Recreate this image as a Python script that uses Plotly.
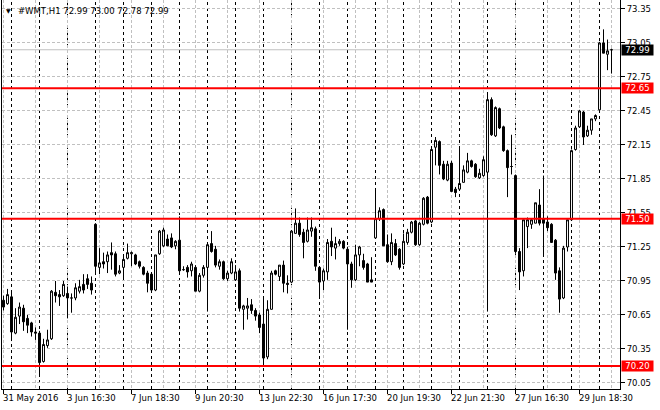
import plotly.graph_objects as go

# hourly sessions of the stock (server time)
sessions = ["16:30", "17:30", "18:30", "19:30", "20:30", "21:30", "22:30"]
dates = ["31 May", "1 Jun", "2 Jun", "3 Jun", "6 Jun", "7 Jun", "8 Jun", "9 Jun",
         "10 Jun", "13 Jun", "14 Jun", "15 Jun", "16 Jun", "17 Jun", "20 Jun",
         "21 Jun", "22 Jun", "23 Jun", "24 Jun", "27 Jun", "28 Jun", "29 Jun", "30 Jun"]

opens = [70.78, 70.75,
         70.81, 70.49, 70.64, 70.71, 70.62, 70.58, 70.50,
         70.49, 70.24, 70.38, 70.44, 70.85, 70.83, 70.82,
         70.84, 70.80, 70.80, 70.86, 70.92, 70.97, 70.93,
         71.45, 71.07, 71.12, 71.12, 71.20, 71.19, 71.02,
         71.07, 71.15, 71.19, 71.18, 71.12, 71.07, 71.02,
         71.01, 70.87, 71.19, 71.26, 71.32, 71.33, 71.26,
         71.31, 71.05, 71.07, 71.04, 71.07, 70.86, 71.00,
         71.07, 71.28, 71.23, 71.08, 71.12, 70.97, 71.02,
         70.96, 71.04, 70.70, 70.71, 70.74, 70.69, 70.65,
         70.57, 70.28, 70.70, 71.04, 70.99, 71.09, 70.93,
         70.94, 71.37, 71.46, 71.38, 71.30, 71.39, 71.41,
         71.07, 70.95, 71.03, 71.30, 71.24, 71.28, 71.30,
         71.23, 71.10, 70.96, 71.18, 71.13, 71.10, 70.96,
         71.33, 71.50, 71.58, 71.27, 71.12, 71.28, 71.23,
         71.10, 71.29, 71.38, 71.48, 71.27, 71.45, 71.69,
         71.47, 72.13, 72.18, 71.98, 71.84, 71.99, 71.76,
         71.76, 71.82, 71.91, 72.01, 71.98, 71.86, 71.88,
         71.91, 72.55, 72.23, 72.47, 72.31, 72.10, 71.96,
         71.88, 71.21, 71.04, 71.43, 71.45, 71.46, 71.62,
         71.50, 71.47, 71.45, 71.31, 71.04, 70.80, 71.25,
         71.49, 72.11, 72.31, 72.44, 72.23, 72.28, 72.38,
         72.46, 73.05, 72.95, 72.99]
highs = [70.82, 70.88,
         70.85, 70.71, 70.76, 70.74, 70.65, 70.59, 70.54,
         70.51, 70.44, 70.52, 70.87, 70.95, 70.87, 70.95,
         70.90, 70.84, 70.93, 70.96, 71.01, 71.01, 70.99,
         71.46, 71.24, 71.20, 71.21, 71.29, 71.21, 71.09,
         71.17, 71.28, 71.21, 71.19, 71.13, 71.08, 71.04,
         71.02, 71.18, 71.40, 71.42, 71.36, 71.37, 71.31,
         71.52, 71.08, 71.09, 71.12, 71.09, 71.02, 71.09,
         71.29, 71.39, 71.26, 71.14, 71.13, 71.04, 71.15,
         71.09, 71.06, 70.74, 70.80, 70.79, 70.71, 70.67,
         70.80, 70.78, 71.04, 71.05, 71.09, 71.13, 71.00,
         71.40, 71.59, 71.51, 71.41, 71.51, 71.51, 71.43,
         71.07, 71.06, 71.32, 71.42, 71.34, 71.32, 71.31,
         71.25, 71.12, 71.27, 71.26, 71.19, 71.11, 71.16,
         71.77, 71.60, 71.59, 71.36, 71.37, 71.32, 71.24,
         71.37, 71.41, 71.48, 71.49, 71.47, 71.69, 71.70,
         72.14, 72.22, 72.19, 72.01, 72.01, 72.01, 71.78,
         72.14, 71.97, 72.08, 72.02, 71.99, 71.94, 72.05,
         72.61, 72.57, 72.49, 72.48, 72.32, 72.11, 72.24,
         71.89, 71.24, 71.49, 71.51, 71.50, 71.64, 71.76,
         71.88, 71.52, 71.46, 71.32, 71.07, 71.26, 71.49,
         72.11, 72.32, 72.46, 72.45, 72.32, 72.38, 72.42,
         73.06, 73.17, 73.08, 73.00]
lows = [70.69, 70.74,
        70.42, 70.48, 70.57, 70.51, 70.49, 70.46, 70.43,
        70.11, 70.23, 70.36, 70.43, 70.76, 70.73, 70.81,
        70.62, 70.67, 70.78, 70.84, 70.84, 70.88, 70.83,
        71.02, 71.01, 71.06, 71.02, 71.05, 70.99, 71.01,
        70.96, 71.14, 71.08, 71.09, 71.06, 71.00, 70.85,
        70.86, 70.86, 71.18, 71.25, 71.26, 71.24, 71.23,
        71.01, 71.04, 70.98, 70.99, 70.86, 70.85, 70.98,
        70.68, 71.20, 71.07, 71.05, 70.96, 70.95, 71.01,
        70.95, 70.68, 70.52, 70.61, 70.66, 70.60, 70.49,
        70.23, 70.26, 70.70, 71.00, 70.95, 70.85, 70.84,
        70.93, 71.37, 71.34, 71.15, 71.29, 71.34, 71.04,
        70.80, 70.87, 70.96, 71.17, 71.14, 71.26, 71.23,
        70.52, 70.89, 70.95, 71.08, 71.05, 70.94, 70.94,
        71.33, 71.48, 71.26, 71.11, 71.09, 71.17, 71.05,
        71.09, 71.27, 71.37, 71.26, 71.26, 71.44, 71.45,
        71.46, 71.97, 71.89, 71.84, 71.83, 71.74, 71.69,
        71.75, 71.82, 71.90, 71.95, 71.86, 71.85, 71.87,
        70.68, 72.23, 72.22, 72.29, 72.09, 71.69, 71.89,
        71.19, 70.87, 70.99, 71.24, 71.41, 71.46, 71.44,
        71.17, 71.39, 71.29, 70.96, 70.67, 70.79, 71.21,
        71.48, 72.10, 72.30, 72.15, 72.22, 72.24, 72.36,
        72.45, 72.96, 72.81, 72.78]
closes = [70.72, 70.83,
          70.50, 70.63, 70.72, 70.59, 70.56, 70.50, 70.49,
          70.23, 70.39, 70.43, 70.86, 70.82, 70.81, 70.92,
          70.80, 70.80, 70.89, 70.90, 70.87, 70.92, 70.87,
          71.08, 71.11, 71.10, 71.18, 71.18, 71.01, 71.04,
          71.14, 71.20, 71.20, 71.10, 71.08, 71.01, 70.93,
          70.87, 71.18, 71.39, 71.40, 71.26, 71.25, 71.30,
          71.04, 71.05, 71.03, 71.10, 70.86, 71.00, 71.07,
          71.27, 71.21, 71.09, 71.12, 70.97, 71.02, 71.12,
          71.03, 70.71, 70.73, 70.73, 70.69, 70.64, 70.54,
          70.27, 70.70, 71.02, 71.01, 71.09, 70.93, 70.92,
          71.39, 71.46, 71.36, 71.29, 71.40, 71.42, 71.08,
          70.94, 71.04, 71.29, 71.25, 71.28, 71.30, 71.24,
          71.10, 70.96, 71.18, 71.25, 71.07, 70.94, 70.94,
          71.50, 71.57, 71.26, 71.12, 71.29, 71.18, 71.07,
          71.30, 71.38, 71.47, 71.27, 71.46, 71.68, 71.46,
          72.11, 72.19, 71.97, 71.85, 71.98, 71.74, 71.73,
          71.81, 71.93, 72.01, 71.96, 71.87, 71.90, 72.02,
          72.55, 72.24, 72.48, 72.30, 72.10, 71.95, 71.96,
          71.21, 71.03, 71.49, 71.49, 71.49, 71.64, 71.46,
          71.46, 71.42, 71.29, 71.02, 70.79, 71.24, 71.49,
          72.10, 72.30, 72.45, 72.22, 72.28, 72.38, 72.41,
          73.05, 72.96, 72.98, 72.99]

levels = [72.65, 71.50, 70.20]
bid = 72.99
price_ticks = [70.05, 70.35, 70.65, 70.95, 71.25, 71.55, 71.85, 72.15,
               72.45, 72.75, 73.05, 73.35]
label_at = ["31 May 21:30", "3 Jun 16:30", "7 Jun 18:30", "9 Jun 20:30",
            "13 Jun 22:30", "16 Jun 17:30", "20 Jun 19:30", "22 Jun 21:30",
            "27 Jun 16:30", "29 Jun 18:30"]
label_text = ["31 May 2016"] + label_at[1:]

# bar times, only the visible part of the first and last day
times = []
for k, d in enumerate(dates):
    hrs = sessions
    if k == 0:
        hrs = sessions[-2:]
    elif k == len(dates) - 1:
        hrs = sessions[:4]
    for h in hrs:
        times.append(d + " " + h)
x = list(range(len(times)))
label_pos = [times.index(t) for t in label_at]
day_starts = [i for i in range(1, len(times))
              if times[i].rsplit(" ", 1)[0] != times[i - 1].rsplit(" ", 1)[0]]

FONT = "DejaVu Sans"
GRID = "#c0c0c0"

fig = go.Figure()
fig.add_trace(go.Candlestick(
    x=x, open=opens, high=highs, low=lows, close=closes,
    increasing=dict(line=dict(color="black", width=1), fillcolor="white"),
    decreasing=dict(line=dict(color="black", width=1), fillcolor="black"),
    whiskerwidth=0, showlegend=False, hoverinfo="skip",
))

# day separators
for d in day_starts:
    fig.add_shape(type="line", x0=d, x1=d, y0=0, y1=1, xref="x", yref="paper",
                  line=dict(color="black", width=1, dash="3px,3px"), layer="below")

# bid line and levels
fig.add_shape(type="line", x0=0, x1=1, y0=bid, y1=bid, xref="paper", yref="y",
              line=dict(color=GRID, width=1), layer="below")
for lv in levels:
    fig.add_shape(type="line", x0=0, x1=1, y0=lv, y1=lv, xref="paper", yref="y",
                  line=dict(color="#ff0000", width=2))

# price tags on the right
tags = [(bid, "black")] + [(lv, "#ff0000") for lv in levels]
for val, col in tags:
    fig.add_annotation(x=1, xref="paper", y=val, yref="y", xanchor="left",
                       yanchor="middle", xshift=1, text="%.2f" % val,
                       showarrow=False, bgcolor=col, width=31, height=10,
                       borderpad=0, font=dict(family=FONT, size=8.5, color="white"))

# date labels, left aligned on their tick
for p, t in zip(label_pos, label_text):
    fig.add_annotation(x=p, xref="x", y=0, yref="paper", xanchor="left",
                       yanchor="top", xshift=-3, yshift=-2, text=t, showarrow=False,
                       font=dict(family=FONT, size=8.5, color="black"))

# header
head = "#WMT,H1 %.2f %.2f %.2f %.2f" % (opens[-1], highs[-1], lows[-1], closes[-1])
fig.add_annotation(x=0, xref="paper", y=1, yref="paper", xanchor="left",
                   yanchor="top", xshift=14, yshift=-4, text=head, showarrow=False,
                   font=dict(family=FONT, size=8.5, color="black"))
fig.add_annotation(x=0, xref="paper", y=1, yref="paper", xanchor="left",
                   yanchor="top", xshift=2, yshift=-5, text="▼", showarrow=False,
                   font=dict(family=FONT, size=6, color="black"))

fig.update_layout(
    width=660, height=410,
    margin=dict(l=2, r=40, t=0, b=21),
    paper_bgcolor="white", plot_bgcolor="white",
    font=dict(family=FONT, size=8.5, color="black"),
    showlegend=False,
    xaxis=dict(
        range=[-0.375, 154.125], rangeslider=dict(visible=False),
        tickmode="array", tickvals=label_pos, showticklabels=False,
        ticks="outside", ticklen=4, tickcolor="black",
        showline=True, linecolor="black", linewidth=1,
        showgrid=True, gridcolor=GRID, griddash="3px,2px", zeroline=False,
        minor=dict(tickvals=[p + 8 for p in label_pos], showgrid=True,
                   gridcolor=GRID, griddash="3px,2px", ticks=""),
    ),
    yaxis=dict(
        range=[69.997, 73.429], side="right",
        tickmode="array", tickvals=price_ticks,
        ticktext=["%.2f" % v for v in price_ticks],
        ticks="outside", ticklen=4, tickcolor="black",
        showline=True, mirror=True, linecolor="black", linewidth=1,
        showgrid=True, gridcolor=GRID, griddash="3px,2px", zeroline=False,
        tickfont=dict(family=FONT, size=8.5, color="black"),
    ),
)

# the page body has an 8px default margin; drop it so the chart sits at 0,0
fig.write_html("out.html", config={"displayModeBar": False},
               post_script="document.body.style.margin='0px';")
